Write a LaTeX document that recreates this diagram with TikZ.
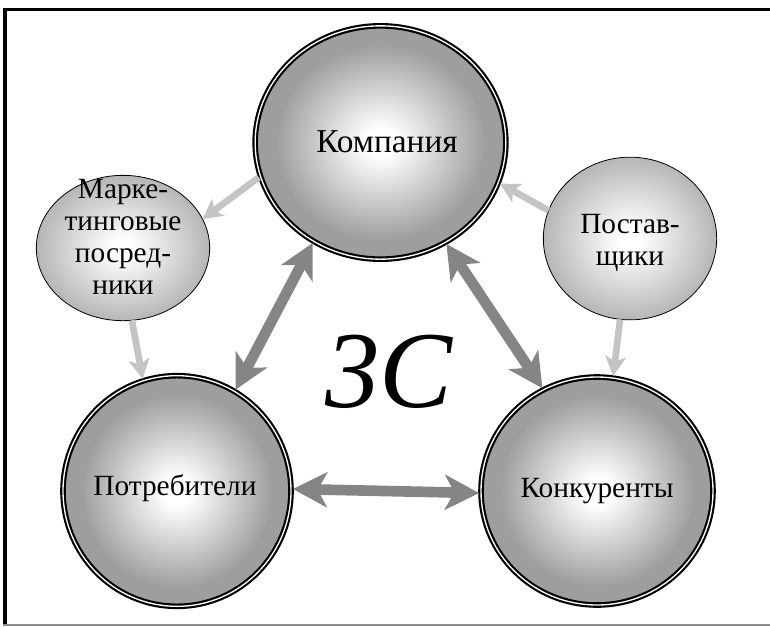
\documentclass[tikz,border=0pt]{standalone}
\usepackage{fontspec}
\setmainfont{Liberation Serif}
\usetikzlibrary{arrows.meta,shapes.geometric}
\definecolor{ink}{HTML}{000000}
\definecolor{rim}{HTML}{9E9E9E}
\definecolor{softrim}{HTML}{B6B6B6}
\definecolor{darkflow}{HTML}{858585}
\definecolor{lightflow}{HTML}{C4C4C4}
\definecolor{framegray}{HTML}{8C8C8C}
\pgfdeclareradialshading{bigshade}{\pgfpoint{0bp}{0bp}}{color(0bp)=(white); color(3bp)=(white); color(21bp)=(rim); color(50bp)=(rim)}
\pgfdeclareradialshading{smallshade}{\pgfpoint{0bp}{0bp}}{color(0bp)=(white); color(3bp)=(white); color(25bp)=(softrim); color(50bp)=(softrim)}
\tikzset{
  bigball/.style={ellipse,draw=ink,line width=1.6pt,double=white,double distance=1pt,shading=bigshade,outer sep=1.5pt},
  smallball/.style={ellipse,draw=ink,line width=0.6pt,shading=smallshade,outer sep=0pt},
  bigtext/.style={align=center,font=\fontsize{22}{27}\selectfont},
  smalltext/.style={align=center,font=\fontsize{22}{24}\selectfont},
  twoway/.style={{Stealth[length=26pt,width=27pt,inset=7.5pt,line width=0pt]}-{Stealth[length=26pt,width=27pt,inset=7.5pt,line width=0pt]},line width=8pt,draw=darkflow},
  oneway/.style={-{Stealth[length=15pt,width=16pt,inset=4pt,line width=0pt]},line width=5pt,draw=lightflow}
}
\begin{document}
\begin{tikzpicture}[x=0.75pt,y=-0.75pt]
  \useasboundingbox (0,0) rectangle (770,626);
  \draw[ink,line width=2pt] (3,9.5) -- (770,9.5);
  \draw[ink,line width=3pt] (4.5,8.5) -- (4.5,625);
  \draw[framegray,line width=1.5pt] (3,625) -- (770,625);

  \node[bigball,minimum width=188pt,minimum height=175pt] (komp) at (380.5,142.5) {};
  \node[bigball,minimum width=171pt,minimum height=173pt] (potr) at (177,491) {};
  \node[bigball,minimum width=174pt,minimum height=171pt] (konk) at (597,491) {};
  \node[smallball,minimum width=130pt,minimum height=109pt] (mark) at (123,248) {};
  \node[smallball,minimum width=130pt,minimum height=122pt] (post) at (630,238.5) {};

  \node[bigtext,font=\fontsize{25}{30}\selectfont] (kompText) at (387,142) {Компания};
  \node[bigtext] (potrText) at (175,488) {Потребители};
  \node[bigtext] (konkText) at (konk) {Конкуренты};
  \node[smalltext] (markText) at (123,237) {Марке-\\тинговые\\посред-\\ники};
  \node[smalltext] (postText) at (630,243) {Постав-\\щики};
  \node[font=\fontsize{82}{92}\selectfont\itshape,anchor=base] (threeC) at (389,407) {3C};

  \draw[oneway] (komp.196) -- (mark.20);
  \draw[oneway] (post.161) -- (komp.341);
  \draw[oneway] (mark.277) -- (potr.107);
  \draw[oneway] (post.263) -- (konk.82);

  \draw[twoway] (komp.236) -- (potr.60);
  \draw[twoway] (komp.303) -- (konk.118);
  \draw[twoway] (potr.1) -- (konk.181);
\end{tikzpicture}
\end{document}
